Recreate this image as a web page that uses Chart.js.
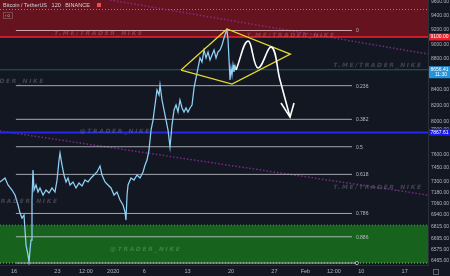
<!DOCTYPE html>
<html>
<head>
<meta charset="utf-8">
<script src="https://cdn.jsdelivr.net/npm/chart.js@4.4.1/dist/chart.umd.min.js"></script>
<style>
html,body{margin:0;padding:0;background:#131722;}
#wrap{width:450px;height:276px;}
</style>
</head>
<body>
<div id="wrap"><canvas id="chartBtc" width="450" height="276"></canvas></div>
<script>
// BTC/USDT 2h, x = days from 16 Dec 2019
const priceDays = [-2.26,-1.45,-0.97,-0.32,0.16,0.65,0.97,1.29,1.61,1.77,1.94,2.26,2.42,2.58,2.74,2.9,3.06,3.23,3.55,3.87,4.19,4.68,5.16,5.65,6.13,6.61,6.94,7.26,7.42,7.74,8.06,8.39,8.71,9.03,9.52,10,10.48,10.97,11.45,11.94,12.42,12.9,13.39,13.87,14.19,14.68,15.16,15.65,16.13,16.61,17.1,17.58,17.9,18.06,18.23,18.39,18.87,19.35,19.84,20.32,20.81,21.13,21.45,21.77,22.1,22.42,22.74,23.06,23.39,23.55,23.87,24.19,24.52,24.84,25.16,25.48,25.81,26.13,26.45,26.77,27.1,27.42,27.74,28.06,28.39,28.71,29.03,29.35,29.68,30,30.32,30.65,30.97,31.29,31.61,31.94,32.26,32.58,32.9,33.23,33.55,33.87,34.19,34.35,34.52,34.68,34.84,35,35.16,35.32,35.48,35.65,35.81];
const priceValues = [7294,7339,7261,7205,7150,7042,6956,6903,6935,6778,6624,6524,6455,6574,6675,7096,7428,7205,7261,7183,7228,7150,7205,7172,7228,7183,7316,7542,7623,7485,7372,7294,7339,7261,7294,7228,7283,7250,7316,7294,7339,7372,7406,7474,7372,7294,7261,7228,7150,7183,7096,7042,6966,6882,7150,7261,7339,7316,7372,7339,7406,7485,7542,7658,7896,8017,8203,8393,8329,8457,8266,8141,8017,7896,7694,7956,8141,8203,8116,8266,8166,8116,8166,8116,8166,8203,8418,8548,8680,8814,8760,8922,8814,8895,8787,8854,8922,8814,8895,8922,8990,9087,9170,9198,9059,8787,8522,8680,8588,8720,8627,8707,8656];
const lastPrice = 8656.41;

const xTickDays = [0, 7, 11.6, 16, 21, 28, 35, 42, 47, 51.6, 56, 63];
const xTickLabels = ["16", "23", "12:00", "2020", "6", "13", "20", "27", "Feb", "12:00", "10", "17"];
const yTickValues = [9600, 9400, 9200, 9000, 8800, 8600, 8400, 8200, 8000, 7900, 7600, 7450, 7300, 7180, 7060, 6940, 6815, 6695, 6575, 6465];

const fibLevels = ["0", "0.236", "0.382", "0.5", "0.618", "0.786", "0.886", "1"];
const fibPrices = [9191, 8449, 8026, 7697, 7379, 6952, 6709, 6445];
const fibSpan = [0.3, 54.5];

const redZone = [9100, 9700];
const redZoneTopLine = 9490;
const greenZone = [6445, 6829];
const blueLevel = 7867.61;

const trendUpperDays = [15.48, 66.77], trendUpperPrices = [9629, 8867];
const trendLowerDays = [-2.26, 66.77], trendLowerPrices = [7884, 7150];

const wedgeDays = [26.94, 34.35, 44.57, 35.16, 26.94];
const wedgePrices = [8653, 9212, 8867, 8470, 8653];

const pathDays = [35.81, 37.74, 39.35, 41.53, 42.9, 44.52];
const pathPrices = [8653, 9045, 8680, 8963, 8522, 8053];
const arrowDays = [43.06, 44.52, 45.16];
const arrowPrices = [8228, 8053, 8228];

const marks = [
  { text: "T.ME/TRADER_NIKE", day: 6.5, price: 9150, color: "rgba(190,110,120,0.45)" },
  { text: "T.ME/TRADER_NIKE", day: 37.5, price: 9120, color: "rgba(190,110,120,0.45)" },
  { text: "T.ME/TRADER_NIKE", day: 51.5, price: 8710, color: "rgba(120,125,140,0.45)" },
  { text: "@TRADER_NIKE", day: -6.5, price: 8500, color: "rgba(120,125,140,0.45)" },
  { text: "@TRADER_NIKE", day: 10.6, price: 7880, color: "rgba(120,125,140,0.45)" },
  { text: "T.ME/TRADER_NIKE", day: 51.5, price: 7230, color: "rgba(120,125,140,0.45)" },
  { text: "@TRADER_NIKE", day: -4.3, price: 7080, color: "rgba(120,125,140,0.45)" },
  { text: "@TRADER_NIKE", day: 15.5, price: 6580, color: "rgba(120,200,120,0.35)" }
];

const xMin = -2.26, xMax = 66.77;
const yMin = 6426, yMax = 9629;

function pts(days, prices) {
  return days.map((d, i) => ({ x: d, y: prices[i] }));
}
function hLine(price, color, width, dash, order, from, to) {
  return {
    data: pts([from ?? xMin, to ?? xMax], [price, price]),
    borderColor: color, borderWidth: width, borderDash: dash || [],
    pointRadius: 0, fill: false, order: order
  };
}

const datasets = [];
datasets.push({
  data: pts([xMin, xMax], [redZone[1], redZone[1]]),
  fill: { value: redZone[0] }, backgroundColor: "rgba(108,19,31,0.92)",
  borderWidth: 0, pointRadius: 0, order: 30
});
datasets.push({
  data: pts([xMin, xMax], [greenZone[1], greenZone[1]]),
  fill: { value: greenZone[0] }, backgroundColor: "#17621d",
  borderColor: "#36c23c", borderWidth: 1, borderDash: [1, 2], pointRadius: 0, order: 29
});
datasets.push(hLine(greenZone[0], "rgba(210,210,150,0.8)", 1, [1, 2], 28));
datasets.push(hLine(redZoneTopLine, "rgba(230,170,130,0.7)", 1, [1, 2], 28));
datasets.push(hLine(lastPrice, "#1f5d6a", 1, [], 27));
datasets.push({
  data: pts(trendUpperDays, trendUpperPrices), borderColor: "rgba(150,45,160,0.8)",
  borderWidth: 1.5, borderDash: [1.5, 2], pointRadius: 0, order: 26
});
datasets.push({
  data: pts(trendLowerDays, trendLowerPrices), borderColor: "rgba(150,45,160,0.8)",
  borderWidth: 1.5, borderDash: [1.5, 2], pointRadius: 0, order: 26
});
fibPrices.forEach((p, i) => {
  const last = i === fibPrices.length - 1;
  const c = i === 0 ? "rgba(235,200,205,0.8)" : "rgba(200,202,210,0.8)";
  const ds = hLine(p, c, 1, [], 25, fibSpan[0], last ? 55.3 : fibSpan[1]);
  if (last) {
    ds.pointRadius = [0, 1.6];
    ds.pointBackgroundColor = "#131722";
    ds.pointBorderColor = "#d0d2d8";
    ds.pointBorderWidth = 0.8;
  }
  datasets.push(ds);
});
datasets.push(hLine(redZone[0], "#f0232f", 1.5, [], 24));
datasets.push(hLine(blueLevel, "#2626ee", 2, [], 24));
datasets.push({
  data: pts(priceDays, priceValues), borderColor: "#8fd0f5",
  borderWidth: 1.25, pointRadius: 0, tension: 0, order: 10
});
datasets.push({
  data: pts(wedgeDays, wedgePrices), borderColor: "#e6d92c",
  borderWidth: 1.3, pointRadius: 0, tension: 0, order: 5
});
datasets.push({
  data: pts(pathDays, pathPrices), borderColor: "#ffffff",
  borderWidth: 1.6, pointRadius: 0, tension: 0.4, order: 4
});
datasets.push({
  data: pts(arrowDays, arrowPrices), borderColor: "#ffffff",
  borderWidth: 1.6, pointRadius: 0, tension: 0, order: 4
});

const overlay = {
  id: "overlay",
  afterDatasetsDraw(chart) {
    const c = chart.ctx, xs = chart.scales.x, ys = chart.scales.y;
    c.save();
    c.beginPath();
    c.rect(chart.chartArea.left, chart.chartArea.top, chart.chartArea.width, chart.chartArea.height);
    c.clip();
    c.font = "italic bold 6px 'DejaVu Sans'";
    c.letterSpacing = "1.6px";
    c.textBaseline = "middle";
    marks.forEach(m => {
      c.fillStyle = m.color;
      c.fillText(m.text, xs.getPixelForValue(m.day), ys.getPixelForValue(m.price));
    });
    c.letterSpacing = "0px";
    c.font = "5px 'Liberation Sans'";
    c.fillStyle = "#b9bcc4";
    fibLevels.forEach((l, i) => {
      if (i === fibLevels.length - 1) return;
      c.fillText(l, xs.getPixelForValue(fibSpan[1]) + 4, ys.getPixelForValue(fibPrices[i]) + 0.5);
    });
    c.restore();
  },
  afterDraw(chart) {
    const c = chart.ctx, ys = chart.scales.y;
    const box = (price, text, bg, sub) => {
      const y = ys.getPixelForValue(price);
      const h = sub ? 12 : 7;
      c.fillStyle = bg;
      c.fillRect(ys.left + 1, y - 3.5, ys.right - ys.left - 1, h);
      c.fillStyle = "#ffffff";
      c.font = "5px 'Liberation Sans'";
      c.textBaseline = "middle";
      c.textAlign = "center";
      c.fillText(text, (ys.left + ys.right) / 2 + 0.5, y);
      if (sub) c.fillText(sub, (ys.left + ys.right) / 2 + 2, y + 5);
    };
    c.save();
    box(redZone[0], redZone[0].toFixed(2), "#e8202c");
    box(lastPrice, lastPrice.toFixed(2), "#2395dd", "11:30");
    box(blueLevel, blueLevel.toFixed(2), "#1a1ae6");
    c.textAlign = "left";
    c.textBaseline = "middle";
    c.font = "5.5px 'Liberation Sans'";
    c.fillStyle = "#d1d4dc";
    c.fillText("Bitcoin / TetherUS   120   BINANCE", 3, 5.5);
    c.fillStyle = "#f04a50";
    c.fillRect(97, 3, 4, 4);
    c.strokeStyle = "rgba(200,200,210,0.35)";
    c.lineWidth = 0.8;
    c.strokeRect(3.5, 12.5, 9, 6);
    c.font = "4px 'Liberation Sans'";
    c.fillStyle = "#d1d4dc";
    c.fillText("↑ 0", 4.5, 15.7);
    c.strokeStyle = "rgba(180,180,190,0.6)";
    c.strokeRect(433.5, 269.5, 5, 5);
    c.restore();
  }
};

const chartBtc = new Chart(document.getElementById("chartBtc").getContext("2d"), {
  type: "line",
  data: { datasets: datasets },
  options: {
    responsive: false,
    devicePixelRatio: 1,
    animation: false,
    events: [],
    layout: { padding: 0, autoPadding: false },
    plugins: { legend: { display: false }, tooltip: { enabled: false } },
    scales: {
      x: {
        type: "linear", position: "bottom", min: xMin, max: xMax,
        grid: { display: false, drawTicks: false, tickLength: 0 },
        border: { display: true, color: "#2a2e39" },
        afterFit(s) { s.height = 11; s.paddingLeft = 0; s.paddingRight = 0; },
        afterBuildTicks(s) { s.ticks = xTickDays.map(v => ({ value: v })); },
        ticks: {
          autoSkip: false, maxRotation: 0, padding: 3,
          color: "#b2b5be", font: { size: 5.5, family: "Liberation Sans" },
          callback: (v, i) => xTickLabels[i]
        }
      },
      y: {
        type: "logarithmic", position: "right", min: yMin, max: yMax,
        grid: { display: false, drawTicks: false, tickLength: 0 },
        border: { display: true, color: "#2a2e39" },
        afterFit(s) { s.width = 22; s.paddingTop = 0; s.paddingBottom = 0; },
        afterBuildTicks(s) { s.ticks = yTickValues.map(v => ({ value: v })); },
        ticks: {
          autoSkip: false, padding: 3,
          color: "#b2b5be", font: { size: 5, family: "Liberation Sans" },
          callback: v => Number(v).toFixed(2)
        }
      }
    }
  },
  plugins: [overlay]
});
</script>
</body>
</html>
